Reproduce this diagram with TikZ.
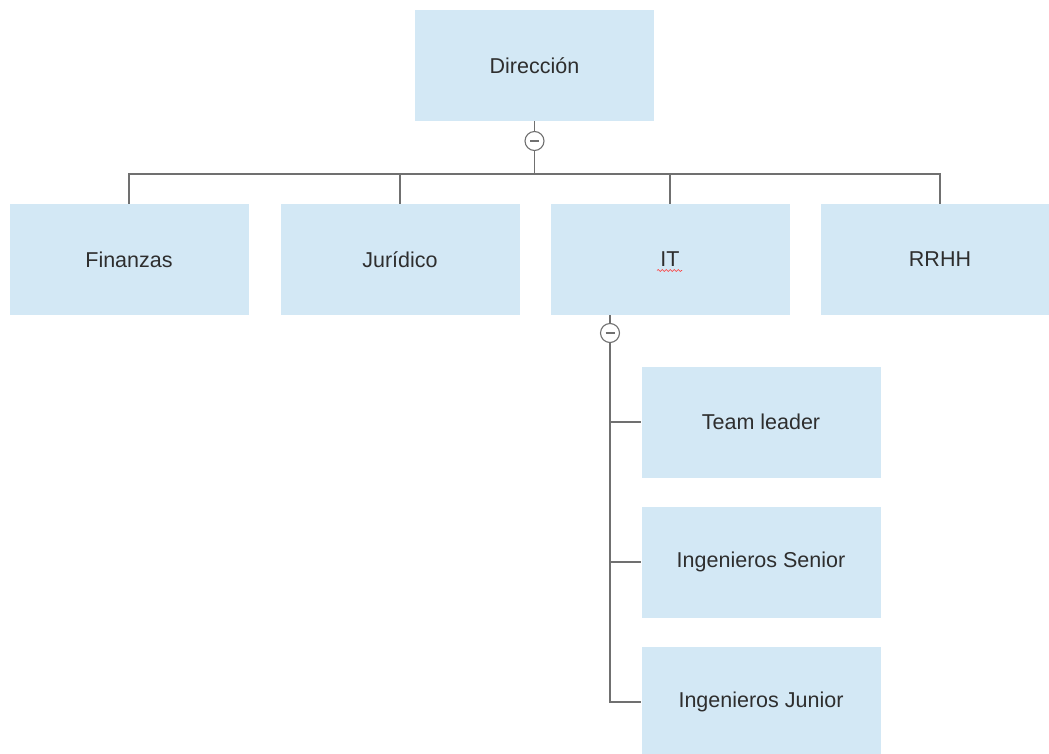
\documentclass[tikz,border=0pt]{standalone}
\usepackage{fontspec}
\setmainfont{Liberation Sans}
\usetikzlibrary{decorations.pathmorphing}
\definecolor{boxfill}{HTML}{D3E8F5}
\definecolor{linegray}{HTML}{707070}
\definecolor{txt}{HTML}{2E2E2E}
\tikzset{
  unit/.style={fill=boxfill, draw=none, minimum width=239pt, minimum height=111pt,
    inner sep=0pt, text=txt, font=\fontsize{21.5}{25}\selectfont},
  toggle/.style={circle, draw=linegray, line width=1.1pt, fill=white, minimum size=19pt, inner sep=0pt},
  link/.style={draw=linegray, line width=1.2pt},
}
\newcommand{\minusmark}[1]{\draw[linegray, line width=1.8pt] ([xshift=-4.5pt]#1.center) -- ([xshift=4.5pt]#1.center);}
\begin{document}
\begin{tikzpicture}[x=1pt,y=-1pt]
\useasboundingbox (0,0) rectangle (1049,753);
\begin{scope}
\clip (0,0) rectangle (1049,753);
% top level
\node[unit] (dir) at (534.5,65.5) {Dirección};
% departments
\node[unit] (fin) at (129,259.5) {Finanzas};
\node[unit] (jur) at (400,259.5) {Jurídico};
\node[unit] (it) at (670,259.5) {IT};
\node[unit] (rrhh) at (940,259.5) {RRHH};
% IT team
\node[unit] (tl) at (761,422) {Team leader};
\node[unit] (sen) at (761,562) {Ingenieros Senior};
\node[unit] (jun) at (761,702) {Ingenieros Junior};
\end{scope}
% spell-check underline under IT
\draw[red!80, line width=0.6pt, decorate, decoration={snake, amplitude=1pt, segment length=4pt}]
  (657,270.5) -- (682,270.5);
% collapse toggles
\node[toggle] (t1) at (534.5,141) {};
\minusmark{t1}
\node[toggle] (t2) at (610,333) {};
\minusmark{t2}
% connectors from Dirección
\coordinate (hub) at (534.5,174);
\draw[link] (dir.south) -- (t1.north);
\draw[link] (t1.south) -- (hub);
\draw[link] (fin.north) |- (hub) -| (rrhh.north);
\draw[link] (jur.north) -- (jur.north |- hub);
\draw[link] (it.north) -- (it.north |- hub);
% connectors from IT
\draw[link] (it.south -| t2) -- (t2.north);
\draw[link] (t2.south) |- (jun.west);
\draw[link] (t2 |- tl.west) -- (tl.west);
\draw[link] (t2 |- sen.west) -- (sen.west);
\end{tikzpicture}
\end{document}
